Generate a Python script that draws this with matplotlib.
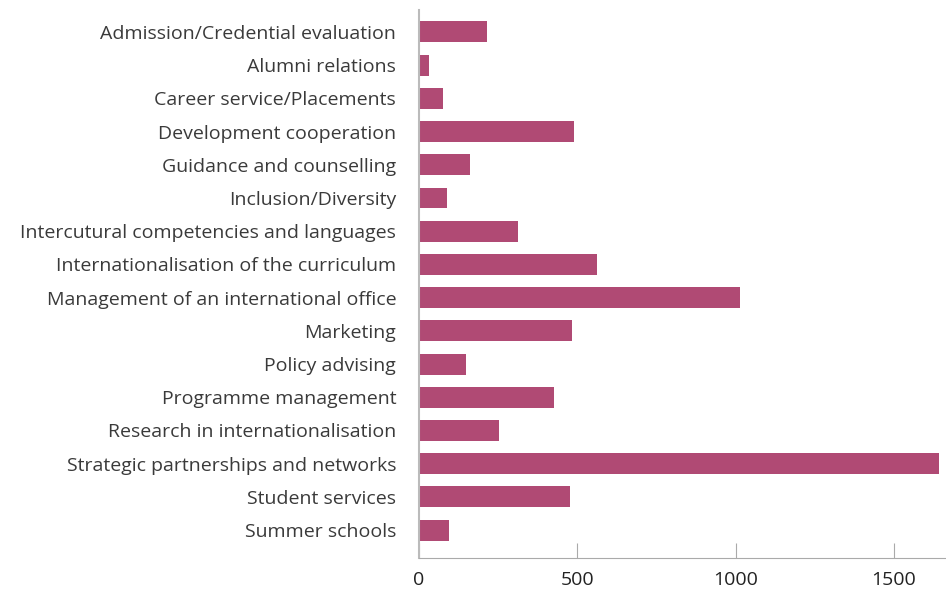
import numpy as np
import matplotlib.pyplot as plt

categories = ['Admission/Credential evaluation', 'Alumni relations', 'Career service/Placements',
              'Development cooperation', 'Guidance and counselling', 'Inclusion/Diversity',
              'Intercutural competencies and languages', 'Internationalisation of the curriculum',
              'Management of an international office', 'Marketing', 'Policy advising',
              'Programme management', 'Research in internationalisation',
              'Strategic partnerships and networks', 'Student services', 'Summer schools']
values = [214, 30, 77, 489, 160, 88, 312, 562, 1014, 483, 148, 426, 252, 1643, 476, 94]
xticks = [0, 500, 1000, 1500]

plt.rcParams['font.family'] = ['Open Sans', 'DejaVu Sans']
fig = plt.figure(figsize=(9.46, 5.89), dpi=100)
ax = fig.add_axes([0.443, 0.0526, 0.557, 0.9304])

y = np.arange(len(categories))
ax.barh(y, values, height=0.63, color='#b04a74')
ax.set_yticks(y)
ax.set_yticklabels(categories, fontsize=14, color='#3a3a3a')
ax.set_ylim(len(categories) - 0.16, -0.66)
ax.set_xlim(0, 1665)
ax.set_xticks(xticks)
ax.set_xticklabels([str(t) for t in xticks], fontsize=14, color='#222222')
ax.tick_params(axis='y', length=0, pad=16.5)
ax.tick_params(axis='x', direction='in', length=11, color='#aaaaaa', pad=9)
for s in ['top', 'right']:
    ax.spines[s].set_visible(False)
ax.spines['bottom'].set_color('#aaaaaa')
ax.spines['left'].set_color('#bbbbbb')
ax.spines['left'].set_linewidth(1.5)

fig.savefig('out.png', dpi=100)
